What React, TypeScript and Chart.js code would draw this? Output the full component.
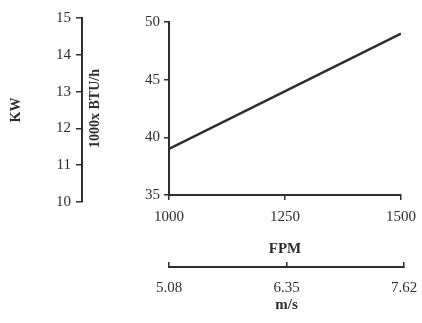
import React, { useEffect, useRef } from "react";
import { Chart, registerables } from "chart.js";

Chart.register(...registerables);

const fpmValues = [1000, 1500];
const btuValues = [39, 49];
const fpmTicks = [1000, 1250, 1500];
const msTicks = [5.08, 6.35, 7.62];
const btuRange = [35, 50];
const kwRange = [10, 15];
const msRange = [5.08, 7.62];

const INK = "#2e2e2e";
const SERIF = "'Liberation Serif', 'Times New Roman', serif";

const adjustPlugin = {
  id: "adjustAxes",
  afterLayout(chart: any) {
    const kw = chart.scales.kw;
    if (kw) {
      kw.top -= 4;
      kw.bottom += 7;
      kw.height = kw.bottom - kw.top;
      kw.configure();
    }
    const ms = chart.scales.ms;
    if (ms) {
      ms.right += 3;
      ms.width = ms.right - ms.left;
      ms.configure();
    }
  },
};

export default function App() {
  const ref = useRef<HTMLCanvasElement | null>(null);

  useEffect(() => {
    if (!ref.current) return;
    const tickFont = { family: SERIF, size: 15 };
    const titleFont = { family: SERIF, size: 14, weight: "bold" };
    const gridCommon = {
      drawOnChartArea: false,
      drawTicks: true,
      color: INK,
      lineWidth: 1.5,
    };
    const border = { display: true, color: INK, width: 2 };
    const noSidePad = (s: any) => {
      s.paddingLeft = 0;
      s.paddingRight = 0;
    };
    const chart = new Chart(ref.current, {
      type: "line",
      data: {
        datasets: [
          {
            data: fpmValues.map((x, i) => ({ x, y: btuValues[i] })),
            borderColor: INK,
            borderWidth: 2.5,
            pointRadius: 0,
            fill: false,
            xAxisID: "x",
            yAxisID: "y",
          },
        ],
      },
      options: {
        responsive: false,
        animation: false,
        devicePixelRatio: 1,
        layout: { padding: { left: 0, top: 22, right: 21, bottom: 9 } },
        plugins: { legend: { display: false }, tooltip: { enabled: false } },
        scales: {
          x: {
            type: "linear",
            position: "bottom",
            weight: 0,
            min: fpmValues[0],
            max: fpmValues[fpmValues.length - 1],
            afterBuildTicks: (s: any) => {
              s.ticks = fpmTicks.map((v) => ({ value: v }));
            },
            ticks: {
              font: tickFont,
              color: INK,
              padding: 8,
              maxRotation: 0,
              callback: (v: any) => String(v),
            },
            grid: { ...gridCommon, tickLength: 5 },
            border,
            title: {
              display: true,
              text: "FPM",
              color: INK,
              font: { family: SERIF, size: 15, weight: "bold" },
              padding: { top: 0, bottom: 9 },
            },
            afterFit: (s: any) => {
              s.height = 72;
              noSidePad(s);
            },
          },
          ms: {
            type: "linear",
            position: "bottom",
            weight: 1,
            min: msRange[0],
            max: msRange[1],
            afterBuildTicks: (s: any) => {
              s.ticks = msTicks.map((v) => ({ value: v }));
            },
            ticks: {
              font: tickFont,
              color: INK,
              padding: 17,
              maxRotation: 0,
              callback: (v: any) => Number(v).toFixed(2),
            },
            grid: { ...gridCommon, tickLength: -5 },
            border,
            title: {
              display: true,
              text: "m/s",
              color: INK,
              font: { family: SERIF, size: 15, weight: "bold" },
              padding: { top: 0, bottom: 0 },
            },
            afterFit: (s: any) => {
              s.height = 47;
              noSidePad(s);
            },
          },
          y: {
            type: "linear",
            position: "left",
            weight: 0,
            min: btuRange[0],
            max: btuRange[1],
            ticks: { stepSize: 5, font: tickFont, color: INK, padding: 4 },
            grid: { ...gridCommon, tickLength: 5 },
            border,
            title: {
              display: true,
              text: "1000x BTU/h",
              color: INK,
              font: titleFont,
              padding: { top: 4.6, bottom: 0 },
            },
            afterFit: (s: any) => {
              s.width = 87;
            },
          },
          kw: {
            type: "linear",
            position: "left",
            weight: 1,
            min: kwRange[0],
            max: kwRange[1],
            ticks: { stepSize: 1, font: tickFont, color: INK, padding: 5 },
            grid: { ...gridCommon, tickLength: 6 },
            border,
            title: {
              display: true,
              text: "KW",
              color: INK,
              font: titleFont,
              padding: { top: 7.6, bottom: 0 },
            },
            afterFit: (s: any) => {
              s.width = 82;
            },
          },
        },
      },
      plugins: [adjustPlugin],
    } as any);
    return () => chart.destroy();
  }, []);

  return (
    <div style={{ position: "fixed", left: 0, top: 0, width: 422, height: 323, background: "#fff" }}>
      <canvas ref={ref} width={422} height={323} />
    </div>
  );
}
